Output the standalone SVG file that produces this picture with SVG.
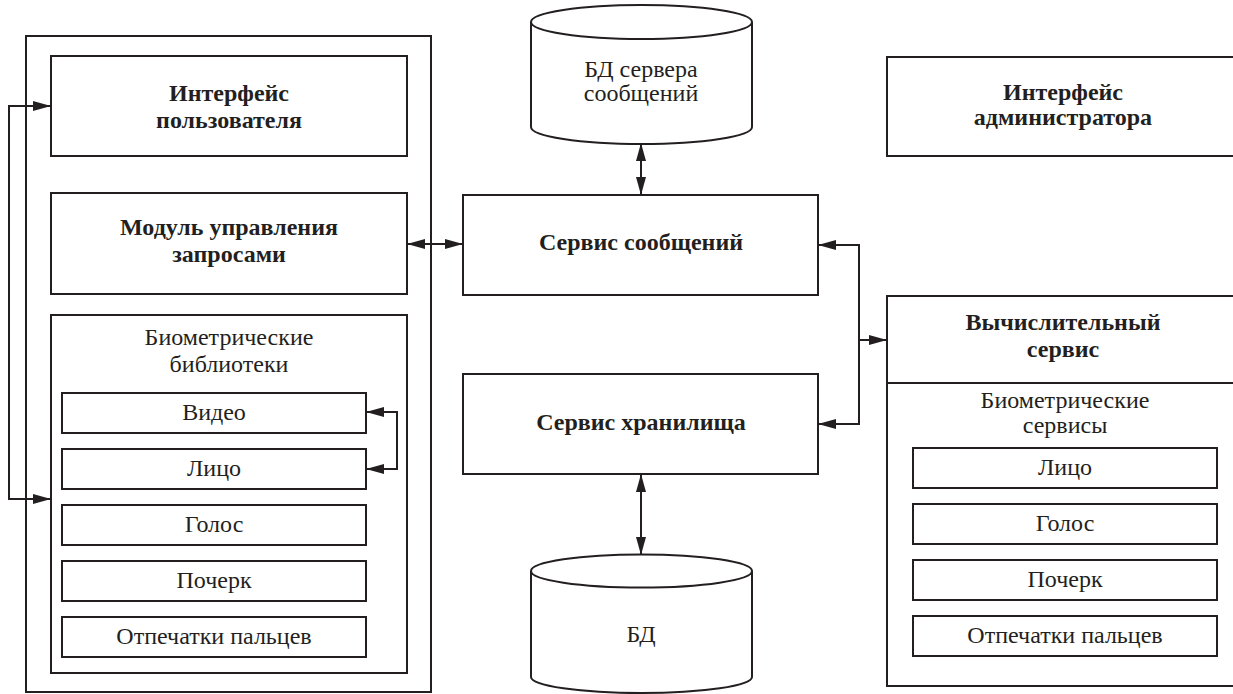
<svg xmlns="http://www.w3.org/2000/svg" width="1233" height="694" viewBox="0 0 1233 694">
<style>
.b{fill:#fff;stroke:#231f20;stroke-width:2}
.c{fill:none;stroke:#231f20;stroke-width:2}
.tb{font-family:"Liberation Serif","Times New Roman",serif;font-weight:bold;font-size:24px;fill:#231f20;text-anchor:middle}
.t{font-family:"Liberation Serif","Times New Roman",serif;font-size:24px;fill:#231f20;text-anchor:middle}
</style>
<defs>
<marker id="ah" viewBox="0 0 18 10" refX="18" refY="5" markerWidth="18" markerHeight="10" markerUnits="userSpaceOnUse" orient="auto-start-reverse">
<path d="M0,0 L18,5 L0,10 Z" fill="#231f20"/>
</marker>
</defs>
<rect width="1233" height="694" fill="#fff"/>

<g id="client">
<rect class="b" x="26" y="36" width="405" height="656"/>
</g>
<g id="user-interface">
<rect class="b" x="51" y="56" width="356" height="100"/>
<text class="tb" x="229" y="101">Интерфейс</text>
<text class="tb" x="229" y="128">пользователя</text>
</g>
<g id="request-module">
<rect class="b" x="51" y="193" width="356" height="101"/>
<text class="tb" x="229" y="235">Модуль управления</text>
<text class="tb" x="229" y="262">запросами</text>
</g>
<g id="bio-libs">
<rect class="b" x="51" y="315" width="356" height="358"/>
<text class="t" x="229" y="345">Биометрические</text>
<text class="t" x="229" y="372">библиотеки</text>
</g>
<g id="lib-video"><rect class="b" x="62" y="393" width="304" height="40"/><text class="t" x="214" y="420">Видео</text></g>
<g id="lib-face"><rect class="b" x="62" y="449" width="304" height="40"/><text class="t" x="214" y="476">Лицо</text></g>
<g id="lib-voice"><rect class="b" x="62" y="505" width="304" height="40"/><text class="t" x="214" y="532">Голос</text></g>
<g id="lib-hand"><rect class="b" x="62" y="561" width="304" height="40"/><text class="t" x="214" y="588">Почерк</text></g>
<g id="lib-finger"><rect class="b" x="62" y="617" width="304" height="40"/><text class="t" x="214" y="644">Отпечатки пальцев</text></g>

<g id="msg-db">
<path class="b" d="M531,22 A110.5,17 0 0 1 752,22 V127 A110.5,17 0 0 1 531,127 Z"/>
<path class="c" d="M531,22 A110.5,17 0 0 0 752,22"/>
<text class="t" x="641" y="77">БД сервера</text>
<text class="t" x="641" y="101">сообщений</text>
</g>
<g id="msg-service">
<rect class="b" x="463" y="195" width="355" height="100"/>
<text class="tb" x="641" y="250">Сервис сообщений</text>
</g>
<g id="storage-service">
<rect class="b" x="463" y="374" width="355" height="100"/>
<text class="tb" x="641" y="430">Сервис хранилища</text>
</g>
<g id="db">
<path class="b" d="M531,571 A110.5,16.5 0 0 1 752,571 V677 A110.5,16 0 0 1 531,677 Z"/>
<path class="c" d="M531,571 A110.5,16.5 0 0 0 752,571"/>
<text class="t" x="641" y="642">БД</text>
</g>

<g id="admin-interface">
<rect class="b" x="887" y="57" width="352" height="99"/>
<text class="tb" x="1063" y="100">Интерфейс</text>
<text class="tb" x="1063" y="125">администратора</text>
</g>
<g id="compute-service">
<rect class="b" x="887" y="296" width="352" height="390"/>
<line class="c" x1="887" y1="383" x2="1239" y2="383"/>
<text class="tb" x="1063" y="330">Вычислительный</text>
<text class="tb" x="1063" y="357">сервис</text>
<text class="t" x="1065" y="408">Биометрические</text>
<text class="t" x="1065" y="433">сервисы</text>
</g>
<g id="svc-face"><rect class="b" x="913" y="448" width="304" height="40"/><text class="t" x="1065" y="475">Лицо</text></g>
<g id="svc-voice"><rect class="b" x="913" y="504" width="304" height="40"/><text class="t" x="1065" y="531">Голос</text></g>
<g id="svc-hand"><rect class="b" x="913" y="560" width="304" height="40"/><text class="t" x="1065" y="587">Почерк</text></g>
<g id="svc-finger"><rect class="b" x="913" y="616" width="304" height="40"/><text class="t" x="1065" y="643">Отпечатки пальцев</text></g>

<g id="connectors">
<path class="c" d="M51,106 H9 V499 H51" marker-start="url(#ah)" marker-end="url(#ah)"/>
<path class="c" d="M366,412 H397 V469 H366" marker-start="url(#ah)" marker-end="url(#ah)"/>
<path class="c" d="M407,244 H463" marker-start="url(#ah)" marker-end="url(#ah)"/>
<path class="c" d="M641,143 V195" marker-start="url(#ah)" marker-end="url(#ah)"/>
<path class="c" d="M641,474 V555" marker-start="url(#ah)" marker-end="url(#ah)"/>
<path class="c" d="M818,245 H859 V424 H818" marker-start="url(#ah)" marker-end="url(#ah)"/>
<path class="c" d="M859,340 H887" marker-end="url(#ah)"/>
</g>
</svg>
